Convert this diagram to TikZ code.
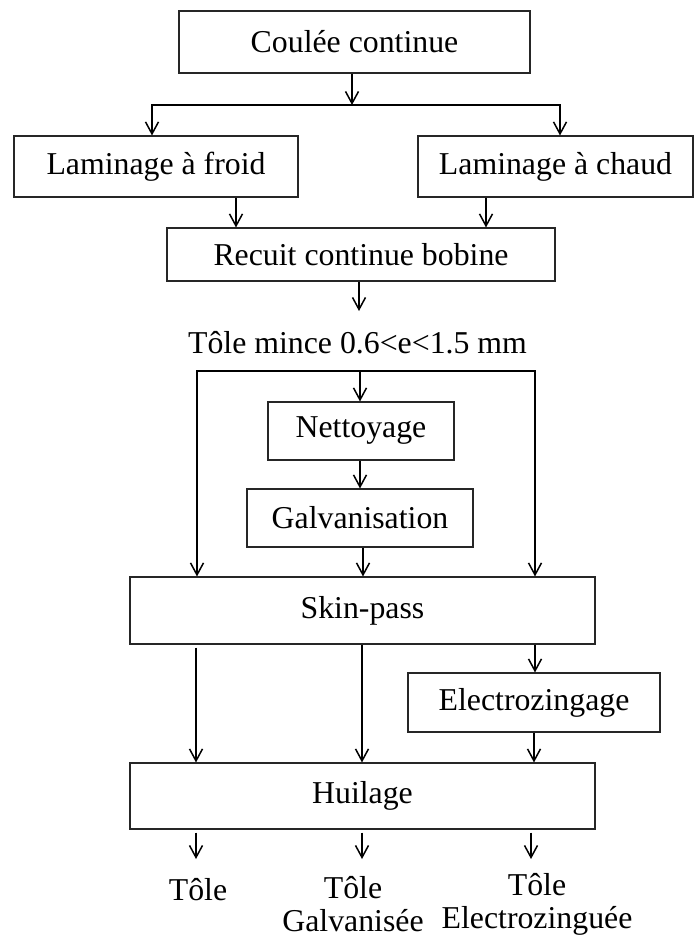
\documentclass[tikz,border=0pt]{standalone}
\usepackage{fontspec}
\setmainfont{Liberation Serif}
\usetikzlibrary{arrows.meta}
\begin{document}
\begin{tikzpicture}[x=1pt,y=-1pt,
  box/.style={draw=black!85, line width=1.1pt, inner sep=0pt, font=\fontsize{31.8}{33}\selectfont},
  lbl/.style={inner sep=0pt, font=\fontsize{31.8}{33}\selectfont, align=center},
  tipb/.tip={Straight Barb[length=12pt,width=13pt,line width=1.5pt]},
  arr/.style={line width=1.5pt, -tipb},
  both/.style={line width=1.5pt, tipb-tipb, line join=miter}]
\useasboundingbox (0,0) rectangle (694,939);
% boxes
\node[box, minimum width=351pt, minimum height=62pt] (coul) at (354.5,42) {Coulée continue};
\node[box, minimum width=284pt, minimum height=61pt] (froid) at (156,166.5) {Laminage à froid};
\node[box, minimum width=275pt, minimum height=61pt] (chaud) at (555.5,166.5) {Laminage à chaud};
\node[box, minimum width=388pt, minimum height=53pt] (recuit) at (361,254.5) {Recuit continue bobine};
\node[lbl, anchor=base] (tole) at (357.5,353) {Tôle mince 0.6<e<1.5 mm};
\node[box, minimum width=186pt, minimum height=58pt] (net) at (361,431) {Nettoyage};
\node[box, minimum width=226pt, minimum height=58pt] (galv) at (360,518) {Galvanisation};
\node[box, minimum width=465pt, minimum height=67pt] (skin) at (362.5,610.5) {Skin-pass};
\node[box, minimum width=252pt, minimum height=59pt] (elec) at (534,702.5) {Electrozingage};
\node[box, minimum width=465pt, minimum height=66pt] (huil) at (362.5,796) {Huilage};
\node[lbl, anchor=base] (p1) at (198,900) {Tôle};
\node[lbl, anchor=base] (p2) at (353,931) {Tôle\\Galvanisée};
\node[lbl, anchor=base] (p3) at (537,928) {Tôle\\Electrozinguée};
% coordinates
\coordinate (s1) at (352,105);
\coordinate (s1l) at (152,105);
\coordinate (s1r) at (560,105);
\coordinate (xf) at (236,0);
\coordinate (xc) at (486,0);
\coordinate (t1) at (359,311);
\coordinate (bl) at (197,371);
\coordinate (br) at (535,371);
\coordinate (bm) at (360,371);
\coordinate (xg) at (363,0);
\coordinate (xl) at (196,0);
\coordinate (xm) at (362,0);
\coordinate (xe) at (534,0);
\coordinate (o1) at (196,859);
\coordinate (o2) at (362,859);
\coordinate (o3) at (531,859);
% connectors
\draw[arr] (coul.south -| s1) -- (s1);
\draw[both] (froid.north -| s1l) -- (s1l) -- (s1r) -- (chaud.north -| s1r);
\draw[arr] (froid.south -| xf) -- (recuit.north -| xf);
\draw[arr] (chaud.south -| xc) -- (recuit.north -| xc);
\draw[arr] (recuit.south -| t1) -- (t1);
\draw[both] (skin.north -| bl) -- (bl) -- (br) -- (skin.north -| br);
\draw[arr] (bm) -- (net.north -| bm);
\draw[arr] (net.south -| bm) -- (galv.north -| bm);
\draw[arr] (galv.south -| xg) -- (skin.north -| xg);
\draw[arr, shorten <=3pt] (skin.south -| xl) -- (huil.north -| xl);
\draw[arr] (skin.south -| xm) -- (huil.north -| xm);
\draw[arr] (skin.south -| br) -- (elec.north -| br);
\draw[arr] (elec.south -| xe) -- (huil.north -| xe);
\draw[arr, shorten <=3pt] (huil.south -| o1) -- (o1);
\draw[arr, shorten <=3pt] (huil.south -| o2) -- (o2);
\draw[arr, shorten <=3pt] (huil.south -| o3) -- (o3);
\end{tikzpicture}
\end{document}
